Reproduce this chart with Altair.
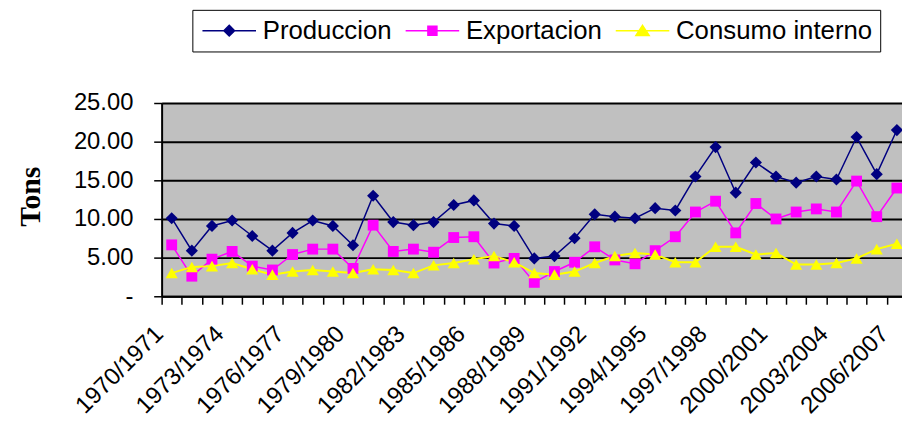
import altair as alt
import pandas as pd

periodos = [
    "1970/1971", "1971/1972", "1972/1973", "1973/1974", "1974/1975", "1975/1976",
    "1976/1977", "1977/1978", "1978/1979", "1979/1980", "1980/1981", "1981/1982",
    "1982/1983", "1983/1984", "1984/1985", "1985/1986", "1986/1987", "1987/1988",
    "1988/1989", "1989/1990", "1990/1991", "1991/1992", "1992/1993", "1993/1994",
    "1994/1995", "1995/1996", "1996/1997", "1997/1998", "1998/1999", "1999/2000",
    "2000/2001", "2001/2002", "2002/2003", "2003/2004", "2004/2005", "2005/2006",
    "2006/2007",
]
produccion = [10.1, 5.9, 9.1, 9.8, 7.8, 5.9, 8.2, 9.8, 9.1, 6.6, 13.0, 9.6, 9.2,
              9.6, 11.8, 12.4, 9.4, 9.1, 4.9, 5.2, 7.5, 10.6, 10.3, 10.1, 11.4,
              11.1, 15.5, 19.3, 13.4, 17.3, 15.5, 14.7, 15.5, 15.1, 20.6, 15.8, 21.5]
exportacion = [6.65, 2.6, 4.8, 5.8, 3.9, 3.4, 5.4, 6.1, 6.1, 3.6, 9.2, 5.8, 6.1,
               5.7, 7.6, 7.7, 4.3, 4.9, 1.8, 3.2, 4.4, 6.4, 4.7, 4.2, 5.9, 7.7,
               10.9, 12.3, 8.2, 12.0, 10.0, 10.9, 11.3, 10.9, 14.9, 10.3, 14.0]
consumo = [3.0, 3.8, 3.9, 4.3, 3.5, 2.8, 3.2, 3.4, 3.2, 3.0, 3.5, 3.4, 3.0, 4.0,
           4.3, 4.8, 5.2, 4.4, 3.0, 2.8, 3.2, 4.3, 5.2, 5.6, 5.4, 4.4, 4.4, 6.4,
           6.4, 5.4, 5.6, 4.1, 4.1, 4.3, 4.9, 6.1, 6.8]

series = ["Produccion", "Exportacion", "Consumo interno"]
colores = ["#000080", "#FF00FF", "#FFFF00"]
marcadores = ["diamond", "square", "triangle-up"]
tamanos = [150, 120, 150]
anchos_linea = [1.5, 1.5, 2]
simbolos_leyenda = [
    "M-1,0H4M1.5,-0.5L2,0L1.5,0.5L1,0Z",
    "M-1,0H4M1.08,-0.42H1.92V0.42H1.08Z",
    "M-1,0H4M1.5,-0.5L2.12,0.45H0.88Z",
]
y_ticks = [0, 5, 10, 15, 20, 25]

rows = []
for s, vals in zip(series, [produccion, exportacion, consumo]):
    for p, v in zip(periodos, vals):
        rows.append({"serie": s, "periodo": p, "valor": v})
df = pd.DataFrame(rows)

x_enc = alt.X(
    "periodo:N",
    sort=periodos,
    scale=alt.Scale(type="point", domain=periodos, range=[0, 752], padding=0.5),
    axis=alt.Axis(
        title=None,
        labelAngle=-45,
        labelAlign="right",
        labelBaseline="middle",
        labelExpr="(toNumber(substring(datum.value, 0, 4)) - 1970) % 3 == 0 ? datum.value : ''",
        labelOverlap=False,
        labelPadding=26,
        tickSize=8,
        tickOffset=-10.16,
        labelOffset=-2.5,
        grid=False,
    ),
)
y_enc = alt.Y(
    "valor:Q",
    scale=alt.Scale(domain=[0, 25], nice=False),
    axis=alt.Axis(
        values=y_ticks,
        labelExpr="datum.value == 0 ? '-\u00a0\u00a0\u00a0\u00a0\u00a0\u00a0' : format(datum.value, '.2f')",
        tickSize=8,
        labelPadding=21,
        grid=True,
        gridColor="black",
        gridWidth=2,
        title="Tons",
        titleFont="Liberation Serif",
        titleFontSize=30,
        titleFontWeight="bold",
        titleAngle=270,
        titleAlign="center",
        titleBaseline="alphabetic",
        titleX=-123,
        titleY=94,
    ),
)

base = alt.Chart(df)

layers = []
for s, c, w in zip(series, colores, anchos_linea):
    layers.append(
        base.transform_filter(alt.datum.serie == s)
        .mark_line(color=c, strokeWidth=w)
        .encode(x=x_enc, y=y_enc)
    )
for s, c, shp, sz in zip(series, colores, marcadores, tamanos):
    layers.append(
        base.transform_filter(alt.datum.serie == s)
        .mark_point(filled=True, shape=shp, size=sz, color=c, opacity=1)
        .encode(x=x_enc, y=y_enc)
    )

SYM = 467
leg = alt.Legend(
    title=None,
    orient="none",
    legendX=31,
    legendY=-94,
    direction="horizontal",
    labelFont="Liberation Sans",
    labelFontSize=26,
    labelColor="black",
    labelLimit=0,
    symbolSize=SYM,
    symbolStrokeWidth=1.5,
    strokeColor="black",
    fillColor="white",
    padding=8,
    columnPadding=10,
    labelOffset=37,
)

legend_layer = (
    base.transform_filter("false")
    .mark_point(filled=True, size=SYM, strokeWidth=1.5, opacity=1)
    .encode(
        x=x_enc,
        y=y_enc,
        fill=alt.Fill("serie:N", scale=alt.Scale(domain=series, range=colores), legend=leg),
        stroke=alt.Stroke("serie:N", scale=alt.Scale(domain=series, range=colores), legend=leg),
        shape=alt.Shape("serie:N", scale=alt.Scale(domain=series, range=simbolos_leyenda), legend=leg),
    )
)
layers.append(legend_layer)

chart = (
    alt.layer(*layers)
    .properties(
        width=747,
        height=195,
        padding={"left": 155, "top": 94, "right": 0, "bottom": 126},
        autosize=alt.AutoSizeParams(type="none"),
    )
    .configure_view(fill="#C0C0C0", strokeWidth=0)
    .configure_axis(
        labelFont="Liberation Sans",
        labelFontSize=24,
        labelColor="black",
        domainColor="black",
        domainWidth=2,
        tickColor="black",
        tickWidth=1.5,
    )
)

chart.save("out.html", embed_options={"renderer": "svg", "actions": False})
